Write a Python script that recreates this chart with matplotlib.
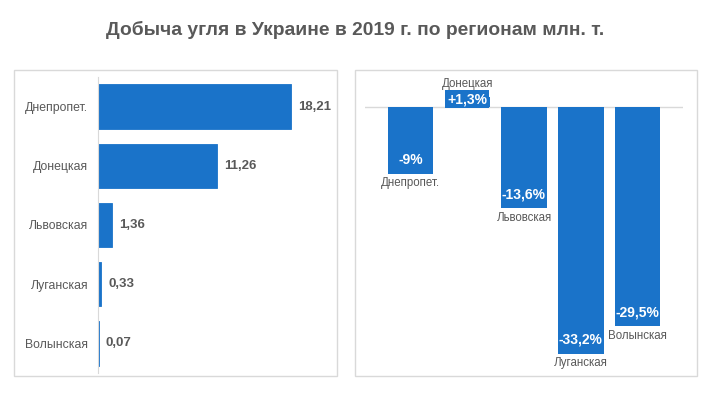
import matplotlib
matplotlib.use("Agg")
import matplotlib.pyplot as plt
from matplotlib.patches import Rectangle

plt.rcParams['font.family'] = ['Liberation Sans', 'DejaVu Sans']

# data
regions = ["Днепропет.", "Донецкая", "Львовская", "Луганская", "Волынская"]
output_mt = [18.21, 11.26, 1.36, 0.33, 0.07]
output_labels = ["18,21", "11,26", "1,36", "0,33", "0,07"]
change_pct = [-9.0, 1.3, -13.6, -33.2, -29.5]
change_labels = ["-9%", "+1,3%", "-13,6%", "-33,2%", "-29,5%"]
title = "Добыча угля в Украине в 2019 г. по регионам млн. т."

W, H = 710, 398
blue = "#1A73C9"
gray_txt = "#595959"
border = "#D9D9D9"

def box(l, t, r, b):
    return [l / W, (H - b) / H, (r - l) / W, (b - t) / H]

fig = plt.figure(figsize=(W / 100, H / 100), dpi=100)
fig.text(0.5, 1 - 30 / H, title, ha='center', va='center',
         fontsize=13.9, fontweight='bold', color=gray_txt)

# panel frames
for l, t, r, b in [(14, 70, 337, 376), (355, 70, 697, 376)]:
    fig.patches.append(Rectangle((l / W, (H - b) / H), (r - l) / W, (b - t) / H,
                                 transform=fig.transFigure, fill=False,
                                 edgecolor=border, lw=1))

# left chart: horizontal bars
ax1 = fig.add_axes(box(98, 77, 330, 373))
y = range(len(regions))
ax1.barh(y, output_mt, height=0.75, color=blue, edgecolor=blue, lw=0.6)
ax1.set_ylim(4.5, -0.5)
ax1.set_xlim(0, 21.9)
for s in ['top', 'right', 'bottom']:
    ax1.spines[s].set_visible(False)
ax1.spines['left'].set_color(border)
ax1.set_xticks([])
ax1.set_yticks(list(y))
ax1.set_yticklabels(regions, fontsize=8.8, color=gray_txt)
ax1.tick_params(axis='y', length=0, pad=7)
for i, (v, lab) in enumerate(zip(output_mt, output_labels)):
    ax1.annotate(lab, (v, i), xytext=(5, 0), textcoords='offset points',
                 ha='left', va='center', fontsize=9.5, fontweight='bold',
                 color=gray_txt)

# right chart: change, %
ax2 = fig.add_axes(box(365, 78, 683, 365))
x = range(len(regions))
ax2.bar(x, change_pct, width=0.8, color=blue)
ax2.set_xlim(-0.8, 4.8)
ax2.set_ylim(-34.7, 3.9)
ax2.axhline(0, color=border, lw=1, zorder=0)
ax2.axis('off')
for i, (v, lab, reg) in enumerate(zip(change_pct, change_labels, regions)):
    if v < 0:
        ax2.annotate(lab, (i, v), xytext=(0, 10), textcoords='offset points',
                     ha='center', va='center', fontsize=10, fontweight='bold',
                     color='white')
        ax2.annotate(reg, (i, v), xytext=(0, -2.5), textcoords='offset points',
                     ha='center', va='top', fontsize=8.3, color=gray_txt)
    else:
        ax2.annotate(lab, (i, 0), xytext=(0, 5.5), textcoords='offset points',
                     ha='center', va='center', fontsize=10, fontweight='bold',
                     color='white',
                     bbox=dict(boxstyle='square,pad=0.15', fc=blue, ec='none'))
        ax2.annotate(reg, (i, v), xytext=(0, 5), textcoords='offset points',
                     ha='center', va='bottom', fontsize=8.3, color=gray_txt)

fig.savefig("out.png", dpi=100)
